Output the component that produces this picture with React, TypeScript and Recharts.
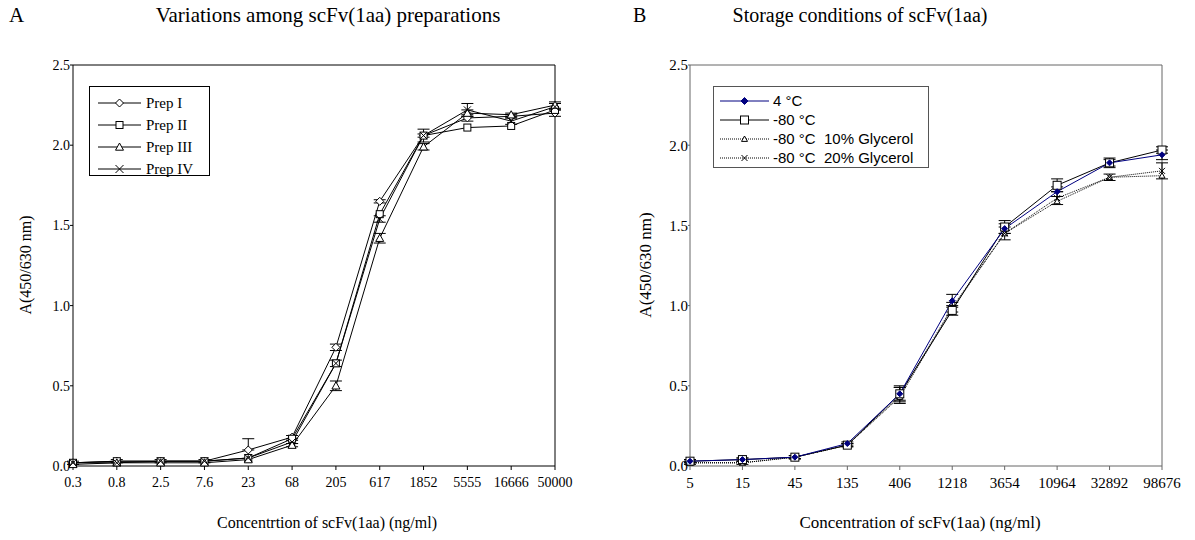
import React from 'react';
import { LineChart, Line, XAxis, YAxis, ErrorBar, ReferenceLine } from 'recharts';

// Panel A: variations among preparations
const concA = ['0.3', '0.8', '2.5', '7.6', '23', '68', '205', '617', '1852', '5555', '16666', '50000'];
const prepI = [0.02, 0.03, 0.03, 0.03, 0.10, 0.18, 0.74, 1.65, 2.06, 2.17, 2.18, 2.20];
const prepII = [0.02, 0.03, 0.03, 0.03, 0.05, 0.17, 0.64, 1.57, 2.06, 2.11, 2.12, 2.22];
const prepIII = [0.01, 0.02, 0.02, 0.02, 0.04, 0.13, 0.50, 1.42, 1.99, 2.20, 2.19, 2.25];
const prepIV = [0.02, 0.02, 0.03, 0.03, 0.05, 0.15, 0.64, 1.54, 2.06, 2.22, 2.15, 2.24];
const errI = [0.01, 0.01, 0.01, 0.01, [0, 0.07], 0.01, 0.02, 0.01, 0.01, 0.02, 0.01, 0.02];
const errIII = [0, 0, 0, 0, 0, 0.01, 0.03, 0.03, 0.02, 0.02, 0.01, 0.02];
const errIV = [0, 0, 0, 0, 0, 0.01, 0.02, 0.02, 0.04, 0.04, 0.02, 0.02];

// Panel B: storage conditions
const concB = ['5', '15', '45', '135', '406', '1218', '3654', '10964', '32892', '98676'];
const at4 = [0.03, 0.04, 0.055, 0.14, 0.45, 1.03, 1.48, 1.71, 1.89, 1.94];
const at80 = [0.03, 0.04, 0.055, 0.13, 0.45, 0.97, 1.49, 1.75, 1.89, 1.97];
const gly10 = [0.02, 0.02, 0.055, 0.13, 0.43, 0.98, 1.45, 1.65, 1.80, 1.81];
const gly20 = [0.02, 0.02, 0.055, 0.13, 0.44, 0.99, 1.45, 1.67, 1.80, 1.84];
const err4 = [0.01, 0.01, 0.01, 0.01, 0.04, 0.04, 0.03, 0.03, 0.02, 0.03];
const err80 = [0.01, 0.01, 0.01, 0.01, 0.05, 0.03, 0.04, 0.04, 0.03, 0.02];
const err20 = [0.01, 0.01, 0.01, 0.01, 0.05, 0.03, 0.04, 0.04, 0.02, 0.05];

const yTicks = [0, 0.5, 1, 1.5, 2, 2.5];

const dataA = concA.map((c, i) => ({
  c, p1: prepI[i], p2: prepII[i], p3: prepIII[i], p4: prepIV[i],
  e1: errI[i], e3: errIII[i], e4: errIV[i],
}));
const dataB = concB.map((c, i) => ({
  c, s4: at4[i], s80: at80[i], g10: gly10[i], g20: gly20[i],
  e4: err4[i], e80: err80[i], e20: err20[i],
}));

const SERIF = '"Liberation Serif", "Times New Roman", serif';
const SANS = '"Liberation Sans", Arial, sans-serif';

type Shape = 'diamond' | 'square' | 'triangle' | 'cross' | 'solidDiamond';

function drawShape(shape: Shape, cx: number, cy: number, s: number, stroke: string) {
  if (shape === 'diamond' || shape === 'solidDiamond') {
    return (
      <path
        d={`M${cx} ${cy - s}L${cx + s} ${cy}L${cx} ${cy + s}L${cx - s} ${cy}Z`}
        stroke={stroke}
        fill={shape === 'solidDiamond' ? stroke : '#fff'}
        strokeWidth={1}
      />
    );
  }
  if (shape === 'square') {
    return <rect x={cx - s} y={cy - s} width={2 * s} height={2 * s} stroke={stroke} fill="#fff" strokeWidth={1} />;
  }
  if (shape === 'triangle') {
    return (
      <path
        d={`M${cx} ${cy - s}L${cx + s} ${cy + s * 0.8}L${cx - s} ${cy + s * 0.8}Z`}
        stroke={stroke}
        fill="#fff"
        strokeWidth={1}
      />
    );
  }
  return (
    <path d={`M${cx - s} ${cy - s}L${cx + s} ${cy + s}M${cx + s} ${cy - s}L${cx - s} ${cy + s}`} stroke={stroke} strokeWidth={1} />
  );
}

const dot = (shape: Shape, s: number, stroke: string) => (p: any) => {
  const { cx, cy, index } = p;
  if (cx == null || cy == null) return <g key={index} />;
  return <g key={index}>{drawShape(shape, cx, cy, s, stroke)}</g>;
};

function Sample({ shape, s, stroke, dash, w }: { shape: Shape; s: number; stroke: string; dash?: string; w: number }) {
  return (
    <svg width={w} height={14} style={{ display: 'block', flex: 'none' }}>
      <line x1={0} y1={7} x2={w} y2={7} stroke={stroke} strokeWidth={1} strokeDasharray={dash} />
      {drawShape(shape, w / 2, 7, s, stroke)}
    </svg>
  );
}

const legendA: { name: string; shape: Shape }[] = [
  { name: 'Prep I', shape: 'diamond' },
  { name: 'Prep II', shape: 'square' },
  { name: 'Prep III', shape: 'triangle' },
  { name: 'Prep IV', shape: 'cross' },
];

const legendB: { name: string; shape: Shape; s: number; stroke: string; dash?: string }[] = [
  { name: '4 °C', shape: 'solidDiamond', s: 3.5, stroke: '#000080' },
  { name: '-80 °C', shape: 'square', s: 4, stroke: '#000' },
  { name: '-80 °C  10% Glycerol', shape: 'triangle', s: 3, stroke: '#000', dash: '1 1' },
  { name: '-80 °C  20% Glycerol', shape: 'cross', s: 3, stroke: '#000', dash: '1 1' },
];

const abs = (left: number, top: number): React.CSSProperties => ({ position: 'absolute', left, top });

export default function App() {
  const tickA = { fontFamily: SERIF, fontSize: 14, fill: '#000' };
  const tickB = { fontFamily: SERIF, fontSize: 15, fill: '#000' };
  const gray = '#666';
  return (
    <div style={{ position: 'absolute', left: 0, top: 0, width: 1195, height: 540, background: '#fff', fontFamily: SERIF, color: '#000' }}>
      {/* titles */}
      <div style={{ ...abs(9, 3), fontSize: 21 }}>A</div>
      <div style={{ ...abs(328, 3), fontSize: 21, transform: 'translateX(-50%)', whiteSpace: 'nowrap' }}>
        Variations among scFv(1aa) preparations
      </div>
      <div style={{ ...abs(633, 4), fontSize: 20 }}>B</div>
      <div style={{ ...abs(860, 4), fontSize: 20, transform: 'translateX(-50%)', whiteSpace: 'nowrap' }}>
        Storage conditions of scFv(1aa)
      </div>

      {/* panel A */}
      <div style={abs(0, 0)}>
        <LineChart width={600} height={540} data={dataA} margin={{ top: 65, right: 45, bottom: 44, left: 43 }}>
          <XAxis
            dataKey="c"
            interval={0}
            stroke="#000"
            tickSize={4}
            tickMargin={7}
            tick={tickA}
            height={30}
          />
          <YAxis
            domain={[0, 2.5]}
            ticks={yTicks}
            tickFormatter={(v: number) => v.toFixed(1)}
            stroke="#000"
            tickSize={3}
            tickMargin={0}
            tick={tickA}
            width={30}
          />
          <ReferenceLine y={2.5} stroke="#000" ifOverflow="visible" />
          <ReferenceLine x="50000" stroke="#000" ifOverflow="visible" />
          <Line dataKey="p1" stroke="#000" strokeWidth={1} dot={dot('diamond', 4, '#000')} isAnimationActive={false}>
            <ErrorBar dataKey="e1" width={6} stroke="#000" strokeWidth={1} />
          </Line>
          <Line dataKey="p2" stroke="#000" strokeWidth={1} dot={dot('square', 3.5, '#000')} isAnimationActive={false} />
          <Line dataKey="p3" stroke="#000" strokeWidth={1} dot={dot('triangle', 4, '#000')} isAnimationActive={false}>
            <ErrorBar dataKey="e3" width={6} stroke="#000" strokeWidth={1} />
          </Line>
          <Line dataKey="p4" stroke="#000" strokeWidth={1} dot={dot('cross', 3.5, '#000')} isAnimationActive={false}>
            <ErrorBar dataKey="e4" width={6} stroke="#000" strokeWidth={1} />
          </Line>
        </LineChart>
      </div>

      {/* panel B */}
      <div style={abs(600, 0)}>
        <LineChart width={595} height={540} data={dataB} margin={{ top: 65, right: 33, bottom: 44, left: 60 }}>
          <XAxis
            dataKey="c"
            interval={0}
            stroke={gray}
            tickSize={4}
            tickMargin={7}
            tick={tickB}
            height={30}
          />
          <YAxis
            domain={[0, 2.5]}
            ticks={yTicks}
            tickFormatter={(v: number) => v.toFixed(1)}
            stroke={gray}
            tickSize={2}
            tickMargin={0}
            tick={tickB}
            width={30}
          />
          <ReferenceLine y={2.5} stroke={gray} ifOverflow="visible" />
          <ReferenceLine x="98676" stroke={gray} ifOverflow="visible" />
          <Line dataKey="g10" stroke="#000" strokeWidth={1} strokeDasharray="1 1" dot={dot('triangle', 3, '#000')} isAnimationActive={false} />
          <Line dataKey="g20" stroke="#000" strokeWidth={1} strokeDasharray="1 1" dot={dot('cross', 3, '#000')} isAnimationActive={false}>
            <ErrorBar dataKey="e20" width={6} stroke="#000" strokeWidth={1} />
          </Line>
          <Line dataKey="s80" stroke="#000" strokeWidth={1} dot={dot('square', 4, '#000')} isAnimationActive={false}>
            <ErrorBar dataKey="e80" width={6} stroke="#000" strokeWidth={1} />
          </Line>
          <Line dataKey="s4" stroke="#000080" strokeWidth={1} dot={dot('solidDiamond', 3, '#000080')} isAnimationActive={false}>
            <ErrorBar dataKey="e4" width={6} stroke="#000" strokeWidth={1} />
          </Line>
        </LineChart>
      </div>

      {/* legend A */}
      <div style={{ ...abs(89, 86), width: 121, height: 90, border: '1px solid #000', background: '#fff', paddingTop: 5, boxSizing: 'border-box' }}>
        {legendA.map((l) => (
          <div key={l.name} style={{ display: 'flex', alignItems: 'center', height: 22, paddingLeft: 8 }}>
            <Sample shape={l.shape} s={l.shape === 'square' ? 3.5 : 4} stroke="#000" w={43} />
            <span style={{ fontSize: 15, marginLeft: 5 }}>{l.name}</span>
          </div>
        ))}
      </div>

      {/* legend B */}
      <div style={{ ...abs(713, 86), width: 216, height: 82, border: '1px solid #555', background: '#fff', paddingTop: 4, boxSizing: 'border-box' }}>
        {legendB.map((l) => (
          <div key={l.name} style={{ display: 'flex', alignItems: 'center', height: 19 }}>
            <span style={{ width: 6, flex: 'none' }} />
            <Sample shape={l.shape} s={l.s} stroke={l.stroke} dash={l.dash} w={49} />
            <span style={{ fontFamily: SANS, fontSize: 15, whiteSpace: 'pre', marginLeft: 4 }}>{l.name}</span>
          </div>
        ))}
      </div>

      {/* axis titles */}
      <div style={{ ...abs(26, 265), fontSize: 16, transform: 'translate(-50%, -50%) rotate(-90deg)', whiteSpace: 'nowrap' }}>
        A(450/630 nm)
      </div>
      <div style={{ ...abs(646, 265), fontSize: 17, transform: 'translate(-50%, -50%) rotate(-90deg)', whiteSpace: 'nowrap' }}>
        A(450/630 nm)
      </div>
      <div style={{ ...abs(327, 523), fontSize: 16, transform: 'translate(-50%, -50%)', whiteSpace: 'nowrap' }}>
        Concentrtion of scFv(1aa) (ng/ml)
      </div>
      <div style={{ ...abs(920, 523), fontSize: 17, transform: 'translate(-50%, -50%)', whiteSpace: 'nowrap' }}>
        Concentration of scFv(1aa) (ng/ml)
      </div>
    </div>
  );
}
